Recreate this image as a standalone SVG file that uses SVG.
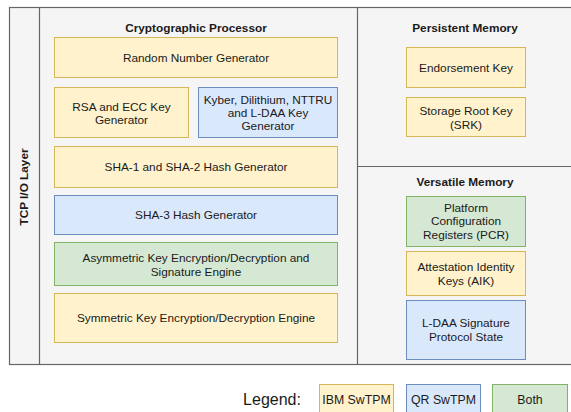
<svg xmlns="http://www.w3.org/2000/svg" width="571" height="412" viewBox="0 0 571 412">
<style>
text{font-family:"Liberation Sans",Arial,sans-serif;font-size:11.8px;fill:#1a1a1a;text-anchor:middle}
.t{font-weight:bold}
.y{fill:#fff2cc;stroke:#d6b656}
.b{fill:#dae8fc;stroke:#6c8ebf}
.g{fill:#d5e8d4;stroke:#82b366}
.frame{fill:#f5f5f5;stroke:#666;stroke-width:1.2}
.ln{stroke:#666;stroke-width:1.2;fill:none}
.lg{font-size:12.3px}
</style>
<rect width="571" height="412" fill="#fff"/>
<g id="frame">
<rect class="frame" x="9.5" y="7.5" width="580" height="357"/>
<line class="ln" x1="39.5" y1="7.5" x2="39.5" y2="364.5"/>
<line class="ln" x1="357.5" y1="7.5" x2="357.5" y2="364.5"/>
<line class="ln" x1="357.5" y1="166.5" x2="580" y2="166.5"/>
</g>
<g id="tcp"><text class="t" transform="translate(28,187) rotate(-90)">TCP I/O Layer</text></g>
<g id="crypto-title"><text class="t" x="196" y="32">Cryptographic Processor</text></g>
<g id="rng"><rect class="y" x="54.5" y="37.5" width="283" height="40"/><text x="196" y="62">Random Number Generator</text></g>
<g id="rsa"><rect class="y" x="54.5" y="87.5" width="134" height="50"/><text x="121.5" y="111">RSA and ECC Key</text><text x="121.5" y="124">Generator</text></g>
<g id="kyber"><rect class="b" x="198.5" y="87.5" width="139" height="50"/><text x="268" y="104">Kyber, Dilithium, NTTRU</text><text x="268" y="117">and L-DAA Key</text><text x="268" y="130">Generator</text></g>
<g id="sha12"><rect class="y" x="54.5" y="146.5" width="283" height="41"/><text x="196" y="171">SHA-1 and SHA-2 Hash Generator</text></g>
<g id="sha3"><rect class="b" x="54.5" y="195.5" width="283" height="39"/><text x="196" y="219">SHA-3 Hash Generator</text></g>
<g id="asym"><rect class="g" x="54.5" y="242.5" width="283" height="43"/><text x="196" y="262">Asymmetric Key Encryption/Decryption and</text><text x="196" y="276">Signature Engine</text></g>
<g id="sym"><rect class="y" x="54.5" y="293.5" width="283" height="49"/><text x="196" y="322">Symmetric Key Encryption/Decryption Engine</text></g>
<g id="pm-title"><text class="t" x="465" y="32">Persistent Memory</text></g>
<g id="ek"><rect class="y" x="406.5" y="47.5" width="119" height="40"/><text x="466" y="72">Endorsement Key</text></g>
<g id="srk"><rect class="y" x="406.5" y="97.5" width="119" height="39"/><text x="466" y="115">Storage Root Key</text><text x="466" y="129">(SRK)</text></g>
<g id="vm-title"><text class="t" x="465" y="186">Versatile Memory</text></g>
<g id="pcr"><rect class="g" x="406.5" y="196.5" width="119" height="50"/><text x="466" y="212">Platform</text><text x="466" y="225">Configuration</text><text x="466" y="239">Registers (PCR)</text></g>
<g id="aik"><rect class="y" x="406.5" y="251.5" width="119" height="44"/><text x="466" y="271">Attestation Identity</text><text x="466" y="285">Keys (AIK)</text></g>
<g id="ldaa"><rect class="b" x="406.5" y="300.5" width="119" height="59"/><text x="466" y="327">L-DAA Signature</text><text x="466" y="341">Protocol State</text></g>
<g id="legend">
<text x="272" y="405" style="font-size:16px">Legend:</text>
<rect class="y" x="319.5" y="384.5" width="74" height="32"/><text class="lg" x="356.5" y="404">IBM SwTPM</text>
<rect class="b" x="406.5" y="384.5" width="74" height="32"/><text class="lg" x="443.5" y="404">QR SwTPM</text>
<rect class="g" x="492.5" y="384.5" width="75" height="32"/><text class="lg" x="530" y="404">Both</text>
</g>
</svg>
